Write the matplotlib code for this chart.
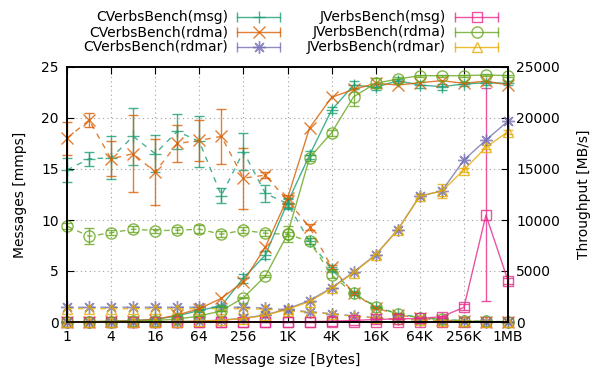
import numpy as np
import matplotlib
matplotlib.use('Agg')
import matplotlib.pyplot as plt
from matplotlib.lines import Line2D

# message sizes 1 B .. 1 MB
sizes = [1, 2, 4, 8, 16, 32, 64, 128, 256, 512, 1024, 2048, 4096, 8192,
         16384, 32768, 65536, 131072, 262144, 524288, 1048576]
tick_sizes = [1, 4, 16, 64, 256, 1024, 4096, 16384, 65536, 262144, 1048576]
tick_labels = ['1', '4', '16', '64', '256', '1K', '4K', '16K', '64K', '256K', '1MB']

# message rate [mmps] (dashed, left axis)
c_msg_rate = [14.9, 16.0, 16.1, 18.2, 16.5, 18.7, 17.7, 12.4, 16.7, 12.6, 11.6,
              7.9, 5.2, 2.8, 1.5, 0.8, 0.45, 0.25, 0.12, 0.06, 0.03]
c_msg_rate_err = [1.2, 0.7, 2.1, 2.8, 1.8, 1.7, 2.5, 0.7, 1.8, 0.8, 0.5,
                  0.3, 0.2, 0.15, 0.1, 0.05, 0.05, 0.03, 0.02, 0.01, 0.01]
c_rdma_rate = [18.0, 19.8, 16.0, 16.5, 14.7, 17.5, 17.8, 18.2, 14.1, 14.4, 11.9,
               9.3, 5.4, 2.8, 1.4, 0.7, 0.36, 0.18, 0.09, 0.045, 0.022]
c_rdma_rate_err = [1.6, 0.7, 1.7, 3.8, 3.2, 1.8, 2.0, 2.7, 3.0, 0.3, 0.6,
                   0.3, 0.2, 0.1, 0.1, 0.05, 0.03, 0.02, 0.01, 0.01, 0.01]
c_rdmar_rate = [1.45, 1.45, 1.45, 1.45, 1.45, 1.45, 1.45, 1.45, 1.45, 1.35, 1.2,
                1.0, 0.82, 0.6, 0.42, 0.28, 0.19, 0.1, 0.06, 0.034, 0.019]
j_msg_rate = [0.02, 0.02, 0.02, 0.02, 0.02, 0.02, 0.02, 0.02, 0.02, 0.02, 0.02,
              0.02, 0.02, 0.02, 0.02, 0.01, 0.01, 0.01, 0.01, 0.02, 0.004]
j_rdma_rate = [9.4, 8.4, 8.75, 9.1, 8.95, 9.0, 9.1, 8.6, 9.0, 8.7, 8.6,
               7.9, 4.6, 2.8, 1.5, 0.8, 0.4, 0.25, 0.12, 0.06, 0.03]
j_rdma_rate_err = [0.3, 0.8, 0.25, 0.3, 0.2, 0.3, 0.4, 0.3, 0.3, 0.3, 0.8,
                   0.3, 0.3, 0.2, 0.1, 0.05, 0.03, 0.02, 0.01, 0.01, 0.01]
j_rdmar_rate = [1.3, 1.3, 1.3, 1.3, 1.3, 1.3, 1.3, 1.3, 1.3, 1.25, 1.1,
                0.95, 0.78, 0.58, 0.4, 0.27, 0.18, 0.1, 0.055, 0.032, 0.018]

# throughput [MB/s] (solid, right axis)
c_msg_tp = [15, 32, 65, 145, 265, 600, 1130, 1590, 4300, 6570, 11700, 16370,
            20780, 23230, 23000, 23660, 23230, 23070, 23330, 23460, 23400]
c_msg_tp_err = [5, 10, 30, 60, 40, 60, 150, 90, 450, 400, 500, 400,
                300, 400, 300, 200, 300, 300, 200, 200, 200]
c_rdma_tp = [18, 40, 64, 132, 235, 690, 1300, 2320, 3950, 7380, 12130, 19020,
             22030, 22800, 23400, 23230, 23460, 23660, 23400, 23620, 23230]
c_rdmar_tp = [1.4, 2.9, 5.8, 11.6, 23, 46, 93, 186, 370, 690, 1300, 2100,
              3360, 4900, 6600, 9050, 12350, 12840, 15880, 17840, 19700]
j_msg_tp = [0.02, 0.04, 0.08, 0.16, 0.3, 0.6, 1.2, 2.5, 5, 10, 20, 40,
            80, 150, 250, 300, 350, 520, 1440, 10490, 4050]
j_msg_tp_lo = [0, 0, 0, 0, 0, 0, 0, 0, 0, 0, 0, 0,
               0, 0, 0, 0, 0, 100, 300, 8400, 300]
j_msg_tp_hi = [0, 0, 0, 0, 0, 0, 0, 0, 0, 0, 0, 0,
               0, 0, 0, 0, 0, 100, 300, 12500, 300]
j_rdma_tp = [9.4, 17, 35, 73, 143, 288, 582, 1100, 2380, 4510, 8600, 16100,
             18560, 22090, 23400, 23820, 24150, 24150, 24150, 24220, 24150]
j_rdma_tp_err = [0, 0, 0, 0, 0, 0, 0, 0, 50, 100, 200, 300,
                 300, 900, 500, 200, 100, 100, 100, 100, 100]
j_rdmar_tp = [1.3, 2.6, 5.3, 10.6, 21, 42, 85, 170, 340, 650, 1250, 2000,
              3300, 4830, 6570, 9020, 12350, 12840, 14900, 17130, 18660]
j_rdmar_tp_err = [0, 0, 0, 0, 0, 0, 0, 0, 0, 0, 0, 0,
                  0, 0, 0, 0, 200, 700, 200, 200, 200]

colors = ['#1b9e77', '#d95f02', '#7570b3', '#e7298a', '#66a61e', '#e6ab02']
names = ['CVerbsBench(msg)', 'CVerbsBench(rdma)', 'CVerbsBench(rdmar)',
         'JVerbsBench(msg)', 'JVerbsBench(rdma)', 'JVerbsBench(rdmar)']
markers = ['+', 'x', (8, 2, 0), 's', 'o', '^']
msizes = [9, 8, 9, 7, 8, 7]

plt.rcParams['font.family'] = 'DejaVu Sans'
plt.rcParams['font.size'] = 10

fig = plt.figure(figsize=(6.0, 3.71), dpi=100)
ax = fig.add_axes([67 / 600, 49 / 371, 441 / 600, 255 / 371])
ax2 = ax.twinx()

rates = [c_msg_rate, c_rdma_rate, c_rdmar_rate, j_msg_rate, j_rdma_rate, j_rdmar_rate]
rate_errs = [c_msg_rate_err, c_rdma_rate_err, None, None, j_rdma_rate_err, None]
tps = [c_msg_tp, c_rdma_tp, c_rdmar_tp, j_msg_tp, j_rdma_tp, j_rdmar_tp]
tp_errs = [c_msg_tp_err, None, None, [j_msg_tp_lo, j_msg_tp_hi], j_rdma_tp_err, j_rdmar_tp_err]

alpha = 0.8
for k in range(6):
    mfc = 'none'
    ax.errorbar(sizes, rates[k], yerr=rate_errs[k], color=colors[k], ls=(0, (4, 4)),
                lw=1.0, marker=markers[k], ms=msizes[k], mfc=mfc, mew=1.0,
                capsize=3.5, elinewidth=1.0, alpha=alpha, clip_on=False)
    ax2.errorbar(sizes, tps[k], yerr=tp_errs[k], color=colors[k], ls='-',
                 lw=1.0, marker=markers[k], ms=msizes[k], mfc=mfc, mew=1.0,
                 capsize=3.5, elinewidth=1.0, alpha=alpha, clip_on=False)

ax.set_xscale('log', base=2)
ax.set_xlim(1, 1048576)
ax.set_xticks(tick_sizes)
ax.set_xticklabels(tick_labels)
ax.minorticks_off()
ax.set_ylim(0, 25)
ax.set_yticks([0, 5, 10, 15, 20, 25])
ax2.set_ylim(0, 25000)
ax2.set_yticks([0, 5000, 10000, 15000, 20000, 25000])

ax.grid(True, color='#a0a0a0', ls=(0, (1, 3)), lw=0.8)
ax.tick_params(axis='x', direction='in', top=True, length=5, pad=6)
ax.tick_params(axis='y', direction='in', length=5, pad=6)
ax2.tick_params(axis='y', direction='in', length=5, pad=6)
for a in (ax, ax2):
    for s in a.spines.values():
        s.set_linewidth(1.2)

ax.set_xlabel('Message size [Bytes]', labelpad=6)
ax.set_ylabel('Messages [mmps]', labelpad=10)
ax2.set_ylabel('Throughput [MB/s]', labelpad=12)

# gnuplot-style legend above the plot
leg_text_x = [228, 228, 228, 446, 446, 446]
leg_row_y = [17, 32, 47, 17, 32, 47]
for k in range(6):
    tx = leg_text_x[k] / 600
    ty = 1 - leg_row_y[k] / 371
    fig.text(tx, ty, names[k], ha='right', va='center')
    x0 = (leg_text_x[k] + 9) / 600
    x1 = (leg_text_x[k] + 52) / 600
    fig.add_artist(Line2D([x0, x1], [ty, ty], color=colors[k], lw=1.0, alpha=alpha,
                          marker='|', ms=7, mew=1.0, transform=fig.transFigure))
    fig.add_artist(Line2D([(x0 + x1) / 2], [ty], color=colors[k], marker=markers[k],
                          ms=msizes[k], mfc='none', mew=1.0, alpha=alpha,
                          transform=fig.transFigure))

fig.savefig('out.png', dpi=100)
